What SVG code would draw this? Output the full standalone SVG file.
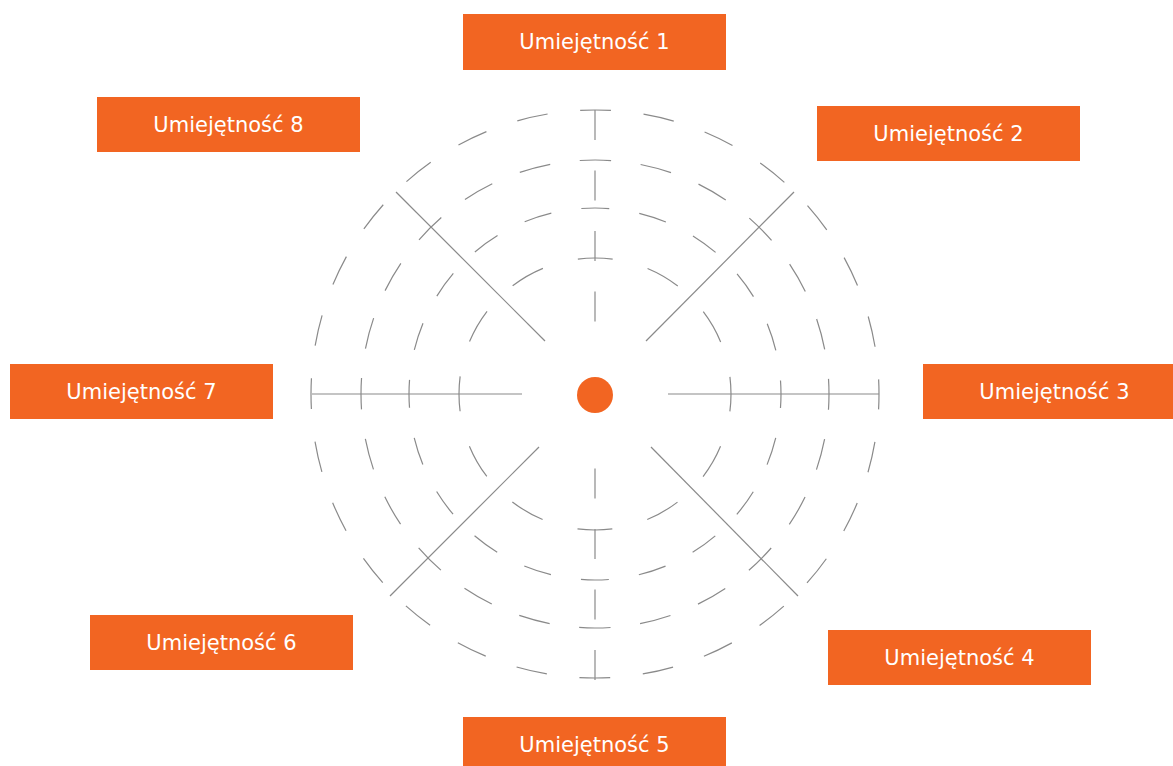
<svg xmlns="http://www.w3.org/2000/svg" width="1173" height="766" viewBox="0 0 1173 766">
  <style>
    .box { fill: #F26522; }
    .label { fill: #ffffff; font-family: "DejaVu Sans", Verdana, sans-serif; font-size: 21px; text-anchor: middle; }
    .ring { fill: none; stroke: #8a8a8a; stroke-width: 1.2; }
    .spoke { fill: none; stroke: #8a8a8a; stroke-width: 1.2; }
    .spoke-dash { stroke-dasharray: 30 30.5; }
  </style>
  <rect width="1173" height="766" fill="#ffffff"/>

  <!-- concentric dashed rings, a dash centred on each axis -->
  <g id="rings">
    <circle class="ring" cx="595" cy="394" r="284" stroke-dasharray="31 32.73" stroke-dashoffset="15.5"/>
    <circle class="ring" cx="595" cy="394" r="234" stroke-dasharray="31.5 29.76" stroke-dashoffset="15.75"/>
    <circle class="ring" cx="595" cy="394" r="186" stroke-dasharray="28 30.43" stroke-dashoffset="14"/>
    <circle class="ring" cx="595" cy="394" r="136" stroke-dasharray="35 36.21" stroke-dashoffset="17.5"/>
  </g>

  <!-- radial spokes from the hub to the labels -->
  <g id="connectors">
    <line class="spoke spoke-dash" x1="595" y1="110" x2="595" y2="323"/>
    <line class="spoke spoke-dash" x1="595" y1="680" x2="595" y2="467"/>
    <line class="spoke" x1="312" y1="394" x2="522" y2="394"/>
    <line class="spoke" x1="668" y1="394" x2="879" y2="394"/>
    <line class="spoke" x1="396" y1="192" x2="545" y2="341"/>
    <line class="spoke" x1="794" y1="192" x2="646" y2="341"/>
    <line class="spoke" x1="539" y1="447" x2="390" y2="596"/>
    <line class="spoke" x1="651" y1="447" x2="798" y2="596"/>
  </g>

  <g id="hub">
    <circle cx="595" cy="395" r="18" fill="#F26522"/>
  </g>

  <g id="skill-1">
    <rect class="box" x="463" y="14" width="263" height="56"/>
    <text class="label" x="594.5" y="49">Umiejętność 1</text>
  </g>
  <g id="skill-2">
    <rect class="box" x="817" y="106" width="263" height="55"/>
    <text class="label" x="948.5" y="141">Umiejętność 2</text>
  </g>
  <g id="skill-3">
    <rect class="box" x="923" y="364" width="263" height="55"/>
    <text class="label" x="1054.5" y="399">Umiejętność 3</text>
  </g>
  <g id="skill-4">
    <rect class="box" x="828" y="630" width="263" height="55"/>
    <text class="label" x="959.5" y="665">Umiejętność 4</text>
  </g>
  <g id="skill-5">
    <rect class="box" x="463" y="717" width="263" height="56"/>
    <text class="label" x="594.5" y="752">Umiejętność 5</text>
  </g>
  <g id="skill-6">
    <rect class="box" x="90" y="615" width="263" height="55"/>
    <text class="label" x="221.5" y="650">Umiejętność 6</text>
  </g>
  <g id="skill-7">
    <rect class="box" x="10" y="364" width="263" height="55"/>
    <text class="label" x="141.5" y="399">Umiejętność 7</text>
  </g>
  <g id="skill-8">
    <rect class="box" x="97" y="97" width="263" height="55"/>
    <text class="label" x="228.5" y="132">Umiejętność 8</text>
  </g>
</svg>
